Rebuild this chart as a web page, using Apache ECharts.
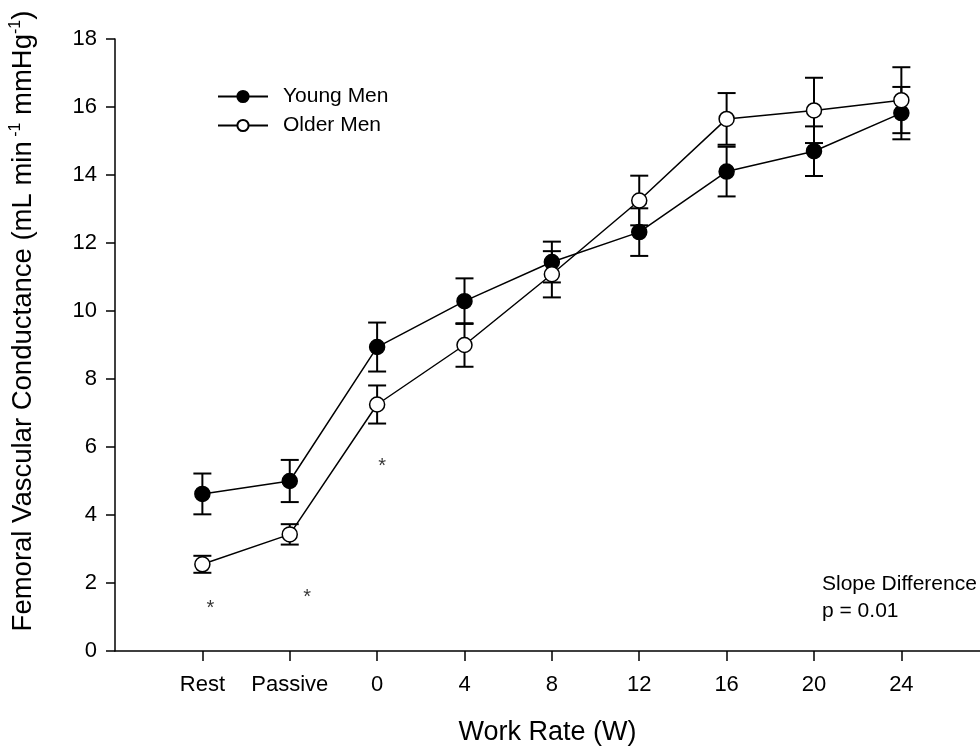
<!DOCTYPE html>
<html>
<head>
<meta charset="utf-8">
<script src="https://cdn.jsdelivr.net/npm/echarts@6/dist/echarts.min.js"></script>
<style>html,body{margin:0;padding:0;background:#fff}#c{width:980px;height:754px}</style>
</head>
<body>
<div id="c"></div>
<script>
// Category positions on the work-rate axis (Rest and Passive placed before 0 W)
var categories = ['Rest', 'Passive', '0', '4', '8', '12', '16', '20', '24'];
var xPositions = [-8, -4, 0, 4, 8, 12, 16, 20, 24];

var youngMean = [4.62, 5.0, 8.94, 10.29, 11.44, 12.32, 14.1, 14.7, 15.82];
var youngErr  = [0.6, 0.62, 0.72, 0.67, 0.6, 0.7, 0.73, 0.73, 0.77];
var olderMean = [2.55, 3.43, 7.25, 9.0, 11.08, 13.25, 15.65, 15.9, 16.2];
var olderErr  = [0.25, 0.3, 0.56, 0.64, 0.68, 0.73, 0.76, 0.96, 0.97];

var yTicks = [0, 2, 4, 6, 8, 10, 12, 14, 16, 18];

// significance asterisks (x, y in data units)
var asteriskX = [-7.63, -3.2, 0.23];
var asteriskY = [1.38, 1.68, 5.53];

function pairs(xs, ys) { return xs.map(function (x, i) { return [x, ys[i]]; }); }
function errData(xs, m, e) { return xs.map(function (x, i) { return [x, m[i], e[i]]; }); }

function errRender(params, api) {
  var x = api.value(0), m = api.value(1), e = api.value(2);
  var top = api.coord([x, m + e]);
  var bot = api.coord([x, m - e]);
  var hw = 9;
  var st = { stroke: '#000', lineWidth: 2 };
  return {
    type: 'group',
    children: [
      { type: 'line', shape: { x1: top[0], y1: top[1], x2: bot[0], y2: bot[1] }, style: st },
      { type: 'line', shape: { x1: top[0] - hw, y1: top[1], x2: top[0] + hw, y2: top[1] }, style: st },
      { type: 'line', shape: { x1: bot[0] - hw, y1: bot[1], x2: bot[0] + hw, y2: bot[1] }, style: st }
    ]
  };
}

var font = 'Liberation Sans, Arial, sans-serif';
var chart = echarts.init(document.getElementById('c'));
chart.setOption({
  animation: false,
  backgroundColor: '#fff',
  textStyle: { fontFamily: font },
  grid: { left: 115, top: 39, right: 0, bottom: 103, containLabel: false },
  legend: {
    orient: 'vertical',
    left: 212,
    top: 81,
    itemWidth: 50,
    itemHeight: 14,
    itemGap: 8,
    textStyle: { fontFamily: font, fontSize: 21, color: '#000', padding: [0, 0, 0, 10] },
    data: ['Young Men', 'Older Men']
  },
  xAxis: {
    type: 'value',
    min: -12,
    max: 27.6,
    interval: 4,
    splitLine: { show: false },
    axisLine: { onZero: false, lineStyle: { color: '#000', width: 1.5 } },
    axisTick: { length: 10, lineStyle: { color: '#000', width: 1.5 }, customValues: xPositions },
    axisLabel: {
      customValues: xPositions,
      margin: 23,
      fontSize: 22,
      color: '#000',
      fontFamily: font,
      formatter: function (v) {
        var i = xPositions.indexOf(v);
        return i >= 0 ? categories[i] : '';
      }
    },
    name: 'Work Rate (W)',
    nameLocation: 'middle',
    nameGap: 68,
    nameTextStyle: { fontSize: 27, color: '#000', fontFamily: font, verticalAlign: 'top' }
  },
  yAxis: {
    type: 'value',
    min: 0,
    max: 18,
    interval: 2,
    splitLine: { show: false },
    axisLine: { show: true, onZero: false, lineStyle: { color: '#000', width: 1.5 } },
    axisTick: { show: true, length: 9, lineStyle: { color: '#000', width: 1.5 } },
    axisLabel: {
      margin: 18, fontSize: 22, color: '#000', fontFamily: font,
      formatter: function (v) { return yTicks.indexOf(v) >= 0 ? String(v) : ''; }
    }
  },
  series: [
    {
      name: 'Young Men', type: 'line', z: 4,
      data: pairs(xPositions, youngMean),
      symbol: 'circle', symbolSize: 15,
      lineStyle: { color: '#000', width: 1.5 },
      itemStyle: { color: '#000', borderColor: '#000', borderWidth: 1.5 }
    },
    {
      name: 'Older Men', type: 'line', z: 4,
      data: pairs(xPositions, olderMean),
      symbol: 'circle', symbolSize: 15,
      lineStyle: { color: '#000', width: 1.5 },
      itemStyle: { color: '#fff', borderColor: '#000', borderWidth: 1.5 }
    },
    {
      type: 'custom', z: 2, renderItem: errRender,
      data: errData(xPositions, youngMean, youngErr), silent: true
    },
    {
      type: 'custom', z: 2, renderItem: errRender,
      data: errData(xPositions, olderMean, olderErr), silent: true
    },
    {
      type: 'scatter', symbol: 'circle', symbolSize: 2, silent: true, z: 5,
      itemStyle: { color: 'rgba(0,0,0,0)' },
      data: pairs(asteriskX, asteriskY),
      label: { show: true, position: 'inside', offset: [0, 4], formatter: '*', fontSize: 20, color: '#000', fontFamily: font }
    }
  ],
  graphic: [
    {
      type: 'text', left: 822, top: 571,
      style: { text: 'Slope Difference\np = 0.01', fontSize: 21, lineHeight: 27, fill: '#000', fontFamily: font }
    },
    {
      type: 'text', x: 23, y: 321, rotation: Math.PI / 2,
      style: {
        text: '{a|Femoral Vascular Conductance (mL min}{s| -1}{a| mmHg}{s|-1}{a|)}',
        align: 'center', verticalAlign: 'middle',
        rich: {
          a: { fontSize: 27.5, fill: '#000', fontFamily: font },
          s: { fontSize: 16, fill: '#000', fontFamily: font, verticalAlign: 'top', padding: [0, 0, 15, 0] }
        }
      }
    }
  ]
});
</script>
</body>
</html>
